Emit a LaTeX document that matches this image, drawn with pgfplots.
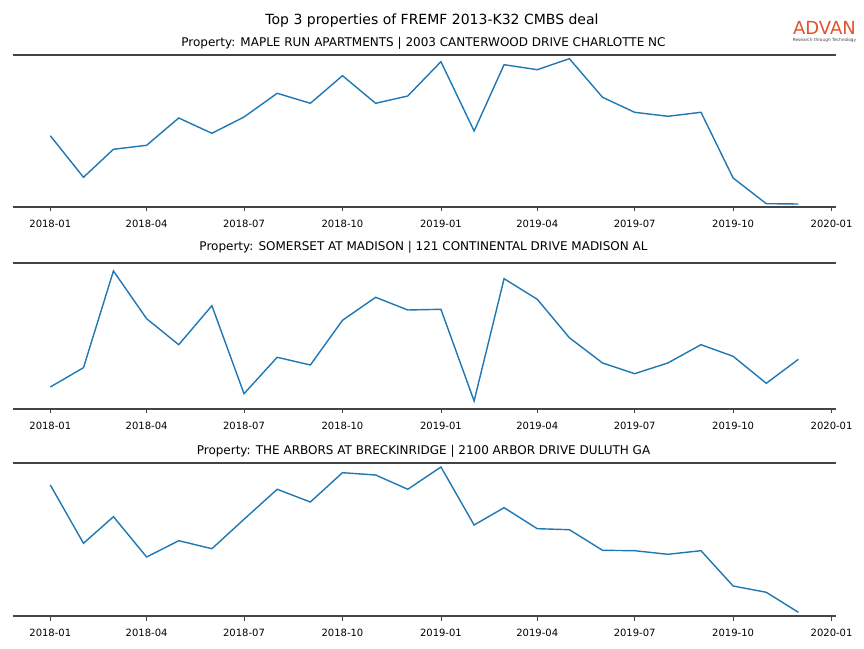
\documentclass[border=0pt]{standalone}
\usepackage{pgfplots}
\pgfplotsset{compat=1.18}
\usepackage{fontspec}
\setmainfont{DejaVu Sans}
\definecolor{mplblue}{HTML}{1F77B4}
\definecolor{spine}{HTML}{444444}
\definecolor{advan}{HTML}{E4532B}
\pgfplotsset{
  panel/.style={
    scale only axis, width=823pt,
    anchor=south west,
    xmin=-35, xmax=734,
    axis x line=box, axis y line=none, separate axis lines,
    x axis line style={spine, line width=1.6pt},
    xtick={0,90,181,273,365,455,546,638,730},
    xticklabels={2018-01,2018-04,2018-07,2018-10,2019-01,2019-04,2019-07,2019-10,2020-01},
    xtick pos=lower, tick align=outside,
    major tick length=4.5pt,
    every tick/.style={spine, line width=0.8pt},
    xticklabel style={font=\fontsize{10}{12}\selectfont, text=black, inner sep=0pt, yshift=-8pt},
    /pgf/number format/assume math mode=true,
    clip=false,
  }
}
\begin{document}
\begin{tikzpicture}[x=1pt,y=1pt]
\useasboundingbox (0,0) rectangle (864,648);
% titles
\node[anchor=base, font=\fontsize{14}{16}\selectfont] at (432,623.5) {Top 3 properties of FREMF 2013-K32 CMBS deal};
\node[anchor=base, font=\fontsize{12}{14}\selectfont] at (423.5,601.5) {Property: MAPLE RUN APARTMENTS | 2003 CANTERWOOD DRIVE CHARLOTTE NC};
\node[anchor=base, font=\fontsize{12}{14}\selectfont] at (423.5,397.5) {Property: SOMERSET AT MADISON | 121 CONTINENTAL DRIVE MADISON AL};
\node[anchor=base, font=\fontsize{12}{14}\selectfont] at (423.5,193.5) {Property: THE ARBORS AT BRECKINRIDGE | 2100 ARBOR DRIVE DULUTH GA};
% logo
\node[anchor=base, font=\fontsize{18}{20}\selectfont, text=advan] at (824.5,613.5) {ADVAN};
\node[anchor=base, font=\fontsize{4.3}{5}\selectfont, text=darkgray] at (824.5,606.5) {Research through Technology};

\begin{axis}[panel, at={(12,441)}, height=152pt, ymin=0, ymax=152]
\addplot[mplblue, line width=1.4pt] coordinates {
(0,71.3) (31,29.7) (59,57.7) (90,61.7) (120,89) (151,73.7) (181,90) (212,113.7) (243,103.7) (273,131.3) (304,103.7) (334,111)
(365,145.3) (396,76) (424,142.3) (455,137.3) (485,148.3) (516,109.7) (546,94.7) (577,90.7) (608,94.7) (638,29) (669,3.3) (699,3)
};
\end{axis}

\begin{axis}[panel, at={(12,239)}, height=146pt, ymin=0, ymax=146]
\addplot[mplblue, line width=1.4pt] coordinates {
(0,22) (31,41.3) (59,138) (90,90.3) (120,64.3) (151,103.3) (181,15.3) (212,51.7) (243,44) (273,88.7) (304,111.7) (334,99)
(365,99.7) (396,8) (424,130.3) (455,109.7) (485,71.3) (516,46) (546,35.3) (577,46) (608,64.3) (638,52.7) (669,25.7) (699,49.7)
};
\end{axis}

\begin{axis}[panel, at={(12,32)}, height=153pt, ymin=0, ymax=153]
\addplot[mplblue, line width=1.4pt] coordinates {
(0,131) (31,72.7) (59,99.3) (90,59) (120,75.3) (151,67.3) (181,96.7) (212,126.7) (243,114) (273,143.3) (304,141) (334,126.7)
(365,149) (396,91) (424,108.3) (455,87.3) (485,86.3) (516,65.7) (546,65.3) (577,61.7) (608,65.3) (638,30) (669,23.7) (699,3.7)
};
\end{axis}
\end{tikzpicture}
\end{document}
